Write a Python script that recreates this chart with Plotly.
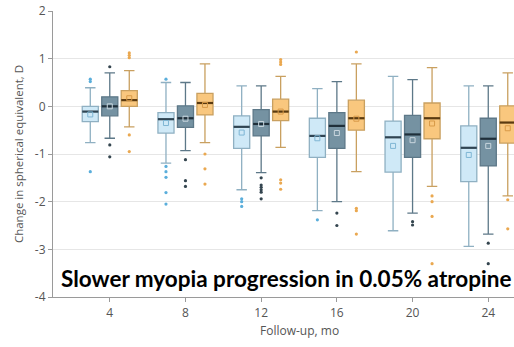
import plotly.graph_objects as go

# Follow-up visits (months)
months = [4, 8, 12, 16, 20, 24]

# Placebo
pl_q1 = [-0.32, -0.56, -0.88, -1.07, -1.38, -1.58]
pl_med = [-0.11, -0.27, -0.43, -0.62, -0.65, -0.87]
pl_q3 = [0.00, -0.13, -0.20, -0.25, -0.31, -0.41]
pl_lo = [-0.76, -1.19, -1.75, -2.19, -2.61, -2.94]
pl_hi = [0.39, 0.50, 0.43, 0.37, 0.63, 0.43]
pl_mean = [-0.17, -0.35, -0.55, -0.67, -0.83, -1.02]
pl_out_x = [4, 4, 4, 8, 8, 8, 8, 8, 8, 12, 12, 12, 16]
pl_out_y = [0.57, 0.52, -1.37, 0.57, -1.26, -1.37, -1.49, -1.81, -2.05, -1.94, -2.0, -2.1, -2.38]

# 0.01% atropine
lo_q1 = [-0.20, -0.44, -0.62, -0.88, -1.07, -1.25]
lo_med = [0.00, -0.25, -0.37, -0.41, -0.59, -0.68]
lo_q3 = [0.20, 0.01, -0.07, -0.13, -0.19, -0.25]
lo_lo = [-0.67, -0.93, -1.39, -2.00, -2.24, -2.68]
lo_hi = [0.70, 0.50, 0.43, 0.52, 0.56, 0.43]
lo_mean = [0.00, -0.26, -0.37, -0.56, -0.71, -0.83]
lo_out_x = [4, 4, 4, 8, 8, 8, 12, 12, 12, 12, 12, 12, 16, 16, 20, 20, 24, 24]
lo_out_y = [0.83, -0.81, -1.06, -1.12, -1.56, -1.68, -1.5, -1.65, -1.7, -1.75, -1.8, -1.94,
            -2.24, -2.5, -2.42, -2.49, -2.87, -3.3]

# 0.05% atropine
hi_q1 = [0.00, -0.18, -0.30, -0.50, -0.68, -0.77]
hi_med = [0.13, 0.07, -0.11, -0.25, -0.25, -0.34]
hi_q3 = [0.33, 0.27, 0.15, 0.13, 0.07, 0.01]
hi_lo = [-0.43, -0.76, -0.86, -1.37, -1.68, -1.88]
hi_hi = [0.75, 0.89, 0.63, 0.89, 0.81, 0.70]
hi_mean = [0.17, 0.03, -0.11, -0.26, -0.36, -0.46]
hi_out_x = [4, 4, 4, 4, 4, 8, 8, 8, 12, 12, 12, 12, 12, 12, 16, 16, 16, 16,
            20, 20, 20, 20, 24, 24]
hi_out_y = [1.12, 1.07, 1.02, -0.6, -0.95, -1.0, -1.31, -1.63, 0.98, 0.93, 0.88,
            -1.54, -1.61, -1.74, 1.14, -2.14, -2.19, -2.68, -1.88, -2.0, -2.31, -3.3,
            -1.96, -2.57]

y_ticks = [2, 1, 0, -1, -2, -3, -4]
y_tick_text = ["2", "1", "0", "-1", "-2", "-3", "-4"]

OFFSET = 1.03
BOX_W = 0.85

groups = [
    dict(shift=-OFFSET, q1=pl_q1, med=pl_med, q3=pl_q3, lo=pl_lo, hi=pl_hi, mean=pl_mean,
         ox=pl_out_x, oy=pl_out_y, fill="#cfe9f7", line="#8fb0c2", dot="#5aaedb",
         mean_c="#7fb6d4", med_c="#2f4452"),
    dict(shift=0.0, q1=lo_q1, med=lo_med, q3=lo_q3, lo=lo_lo, hi=lo_hi, mean=lo_mean,
         ox=lo_out_x, oy=lo_out_y, fill="#7592a2", line="#5d7888", dot="#34454f",
         mean_c="#c9d6de", med_c="#1f2f3a"),
    dict(shift=OFFSET, q1=hi_q1, med=hi_med, q3=hi_q3, lo=hi_lo, hi=hi_hi, mean=hi_mean,
         ox=hi_out_x, oy=hi_out_y, fill="#f9c77e", line="#c9a060", dot="#eaa850",
         mean_c="#d89a48", med_c="#5a3a10"),
]

fig = go.Figure()
for g in groups:
    xs = [m + g["shift"] for m in months]
    fig.add_trace(go.Box(
        x=xs, q1=g["q1"], median=g["med"], q3=g["q3"],
        lowerfence=g["lo"], upperfence=g["hi"],
        width=BOX_W, whiskerwidth=0.65, boxpoints=False,
        fillcolor=g["fill"], line=dict(color=g["line"], width=1.3),
        showlegend=False, hoverinfo="skip",
    ))
    # darker median bars
    mx, my = [], []
    for x, v in zip(xs, g["med"]):
        mx += [x - BOX_W / 2, x + BOX_W / 2, None]
        my += [v, v, None]
    fig.add_trace(go.Scatter(x=mx, y=my, mode="lines",
                             line=dict(color=g["med_c"], width=2.2),
                             showlegend=False, hoverinfo="skip"))
    # means
    fig.add_trace(go.Scatter(x=xs, y=g["mean"], mode="markers",
                             marker=dict(symbol="square-open", size=5,
                                         color=g["mean_c"], line=dict(width=1)),
                             showlegend=False, hoverinfo="skip"))
    # outliers
    fig.add_trace(go.Scatter(x=[m + g["shift"] for m in g["ox"]], y=g["oy"],
                             mode="markers",
                             marker=dict(size=3.2, color=g["dot"]),
                             showlegend=False, hoverinfo="skip"))

fig.add_annotation(text="<b>Slower myopia progression in 0.05% atropine</b>",
                   xref="paper", yref="y", x=0.012, y=-3.61, xanchor="left",
                   yanchor="middle", showarrow=False,
                   font=dict(family="Lato", size=22.5, color="#000000"))

fig.add_annotation(text="Follow-up, mo", xref="x", yref="paper", x=14, y=-0.08,
                   xanchor="center", yanchor="top", showarrow=False,
                   font=dict(family="Open Sans", size=12, color="#555555"))

fig.update_layout(
    width=514, height=347,
    margin=dict(l=53, r=0, t=11, b=49.5),
    paper_bgcolor="white", plot_bgcolor="white",
    boxmode="overlay",
    font=dict(family="Open Sans", color="#555555", size=12),
    xaxis=dict(range=[1, 25.36], tickvals=months, ticktext=[str(m) for m in months],
               showgrid=False, zeroline=False, showline=True, linecolor="#9a9a9a",
               linewidth=1.2, ticks="outside", ticklen=4, tickcolor="#9a9a9a",
               tickfont=dict(size=12, color="#555555")),
    yaxis=dict(range=[-4, 2], tickvals=y_ticks, ticktext=y_tick_text,
               showgrid=True, gridcolor="#e6e6e6", gridwidth=1.2, zeroline=False,
               showline=True, linecolor="#9a9a9a", linewidth=1.2,
               ticks="outside", ticklen=4, tickcolor="#9a9a9a",
               tickfont=dict(size=12, color="#555555"),
               title=dict(text="Change in spherical equivalent, D", standoff=8,
                          font=dict(size=11.5, color="#555555"))),
)

fig.write_html("out.html")
